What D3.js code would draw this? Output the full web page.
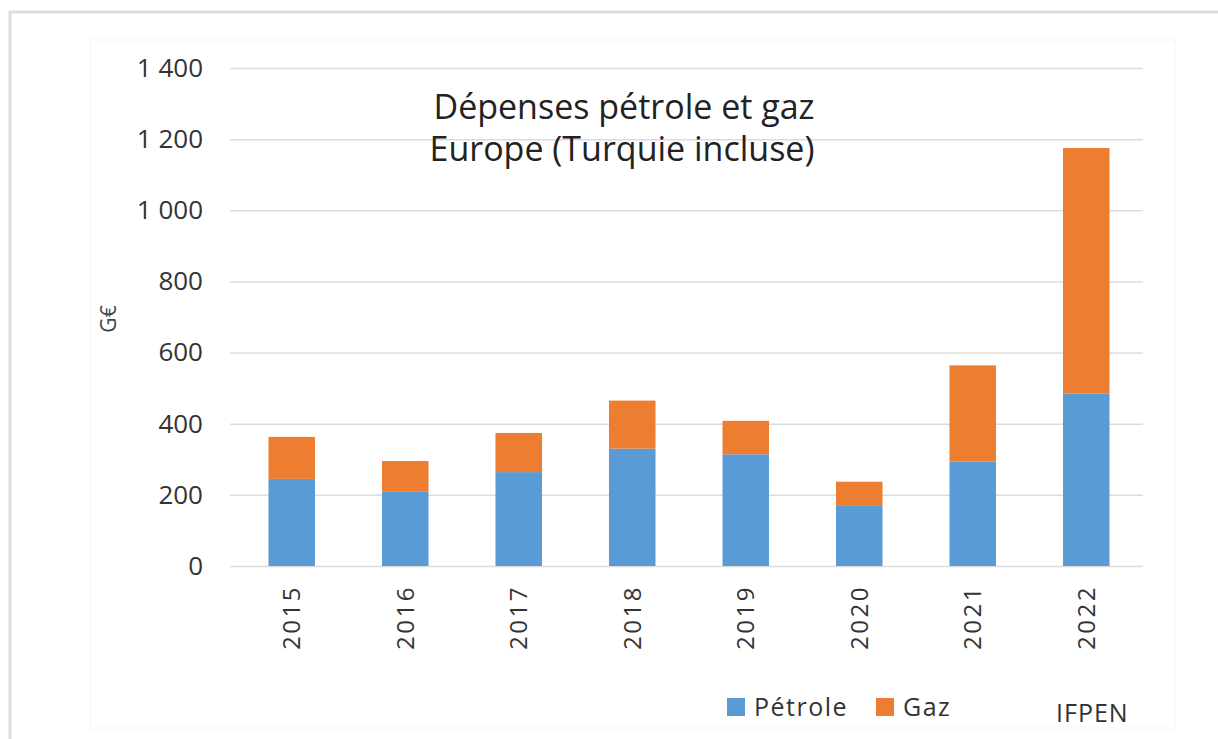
<!DOCTYPE html>
<html>
<head>
<meta charset="utf-8">
<script src="https://cdn.jsdelivr.net/npm/d3@7"></script>
<style>
  body { margin: 0; background: #fff; }
  text { font-family: "Open Sans", sans-serif; }
</style>
</head>
<body>
<svg id="chart" width="1218" height="739"></svg>
<script>
// values (G€)
var years = ["2015", "2016", "2017", "2018", "2019", "2020", "2021", "2022"];
var petrole = [245, 210, 264, 330, 314, 171, 294, 485];
var gaz = [118, 85, 110, 135, 94, 66, 270, 690];
var yTicks = [0, 200, 400, 600, 800, 1000, 1200, 1400];
var seriesNames = ["Pétrole", "Gaz"];
var seriesColors = ["#5b9bd5", "#ed7d31"];

var svg = d3.select("#chart");

// frame of the screenshot
svg.append("rect").attr("x", 10).attr("y", 12).attr("width", 1230).attr("height", 760)
  .attr("fill", "#fff").attr("stroke", "#dedede").attr("stroke-width", 3);
svg.append("rect").attr("x", 90).attr("y", 40).attr("width", 1085).attr("height", 688)
  .attr("fill", "none").attr("stroke", "#f4f4f4").attr("stroke-width", 1);

var rows = years.map(function(y, i) { return { year: y, "Pétrole": petrole[i], "Gaz": gaz[i] }; });
var stacked = d3.stack().keys(seriesNames)(rows);

var x = d3.scaleBand().domain(years).range([235, 1143]).paddingInner(0.59).paddingOuter(0.295);
var y = d3.scaleLinear().domain([0, 1400]).range([566, 68]);

var fr = d3.formatLocale({ decimal: ",", thousands: " ", grouping: [3], currency: ["", "€"] });

// grid + y labels
var yAxis = svg.append("g")
  .attr("transform", "translate(230,0)")
  .call(d3.axisLeft(y).tickValues(yTicks).tickSize(-913).tickPadding(27).tickFormat(fr.format(",")));
yAxis.select(".domain").remove();
yAxis.selectAll(".tick line").attr("stroke", "#dcdcdc").attr("stroke-width", 1.5);
yAxis.selectAll(".tick text")
  .attr("fill", "#333")
  .style("font-size", "26px");

// bars
svg.append("g").selectAll("g")
  .data(stacked)
  .enter().append("g")
  .attr("fill", function(d, i) { return seriesColors[i]; })
  .selectAll("rect")
  .data(function(d) { return d; })
  .enter().append("rect")
  .attr("x", function(d) { return x(d.data.year); })
  .attr("y", function(d) { return y(d[1]); })
  .attr("width", x.bandwidth())
  .attr("height", function(d) { return y(d[0]) - y(d[1]); });

// x labels, rotated
var xAxis = svg.append("g")
  .attr("transform", "translate(0,566)")
  .call(d3.axisBottom(x).tickSize(0));
xAxis.select(".domain").remove();
xAxis.selectAll(".tick text")
  .attr("transform", "rotate(-90)")
  .attr("x", -19)
  .attr("y", 0)
  .attr("dy", "0.35em")
  .attr("text-anchor", "end")
  .attr("fill", "#333")
  .style("font-size", "24px")
  .style("letter-spacing", "2.5px");

// title
svg.append("text").attr("x", 624).attr("y", 119).attr("text-anchor", "middle")
  .attr("fill", "#222").style("font-size", "34px").text("Dépenses pétrole et gaz");
svg.append("text").attr("x", 622).attr("y", 161).attr("text-anchor", "middle")
  .attr("fill", "#222").style("font-size", "34px").text("Europe (Turquie incluse)");

// unit
svg.append("text").attr("transform", "translate(116,319) rotate(-90)")
  .attr("text-anchor", "middle").attr("fill", "#444")
  .style("font-size", "21px").text("G€");

// legend
var legX = [727, 876];
var leg = svg.append("g").selectAll("g")
  .data(seriesNames)
  .enter().append("g")
  .attr("transform", function(d, i) { return "translate(" + legX[i] + ",698)"; });
leg.append("rect").attr("width", 18).attr("height", 18)
  .attr("fill", function(d, i) { return seriesColors[i]; });
leg.append("text").attr("x", 27).attr("y", 18)
  .attr("fill", "#333").style("font-size", "25px").style("letter-spacing", "1.5px")
  .text(function(d) { return d; });

svg.append("text").attr("x", 1056).attr("y", 722)
  .attr("fill", "#333").style("font-size", "25px").style("letter-spacing", "1px").text("IFPEN");
</script>
</body>
</html>
